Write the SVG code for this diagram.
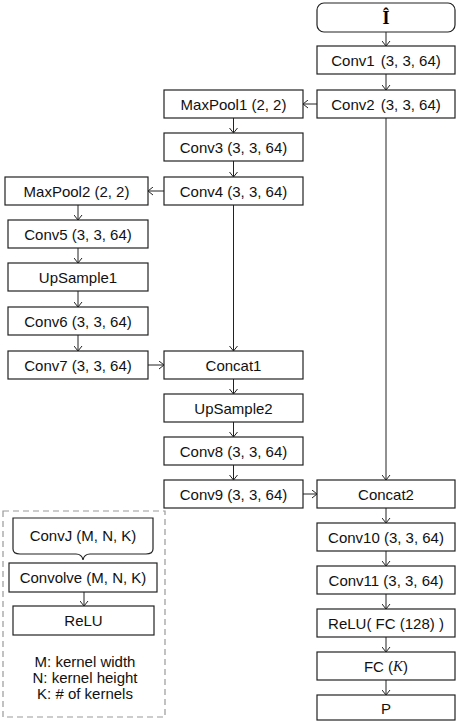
<svg xmlns="http://www.w3.org/2000/svg" width="458" height="722" viewBox="0 0 458 722">
<defs>
<style>
.b{fill:#fff;stroke:#222;stroke-width:1.2}
.t{font-family:"Liberation Sans",Arial,sans-serif;font-size:15px;fill:#111;text-anchor:middle;dominant-baseline:central}
.c{fill:none;stroke:#222;stroke-width:1}
.lg{fill:none;stroke:#999;stroke-width:1.2;stroke-dasharray:6,4}
</style>
<marker id="a" markerWidth="9" markerHeight="9" refX="6" refY="4.5" orient="auto" markerUnits="userSpaceOnUse">
<path d="M1,0.5 L6,4.5 L1,8.5" fill="none" stroke="#222" stroke-width="1"/>
</marker>
</defs>
<g id="connectors" class="c" marker-end="url(#a)">
<line x1="386" y1="32" x2="386" y2="46"/>
<line x1="386" y1="74" x2="386" y2="90"/>
<line x1="317" y1="104" x2="303" y2="104"/>
<line x1="386" y1="118" x2="386" y2="480"/>
<line x1="233.5" y1="118" x2="233.5" y2="133"/>
<line x1="233.5" y1="161" x2="233.5" y2="177"/>
<line x1="164" y1="191" x2="148" y2="191"/>
<line x1="233.5" y1="205" x2="233.5" y2="351"/>
<line x1="78" y1="205" x2="78" y2="220"/>
<line x1="78" y1="248" x2="78" y2="263"/>
<line x1="78" y1="291" x2="78" y2="307"/>
<line x1="78" y1="335" x2="78" y2="351"/>
<line x1="148" y1="365" x2="164" y2="365"/>
<line x1="233.5" y1="379" x2="233.5" y2="394"/>
<line x1="233.5" y1="422" x2="233.5" y2="437"/>
<line x1="233.5" y1="465" x2="233.5" y2="480"/>
<line x1="303" y1="494" x2="317" y2="494"/>
<line x1="386" y1="508" x2="386" y2="523"/>
<line x1="386" y1="551" x2="386" y2="566"/>
<line x1="386" y1="594" x2="386" y2="609"/>
<line x1="386" y1="637" x2="386" y2="652"/>
<line x1="386" y1="680" x2="386" y2="695"/>
<line x1="84" y1="592" x2="84" y2="606"/>
</g>
<g id="n_input"><rect class="b" x="317" y="3" width="138" height="29" rx="7"/><text x="386" y="18" font-family="'Liberation Serif',serif" font-weight="bold" font-size="18" text-anchor="middle" dominant-baseline="central">Î</text></g>
<g id="n_conv1"><rect class="b" x="317" y="46" width="138" height="28"/><text class="t" x="386" y="60">Conv1 <tspan dx="2">(3, 3, 64)</tspan></text></g>
<g id="n_conv2"><rect class="b" x="317" y="90" width="138" height="28"/><text class="t" x="386" y="104">Conv2 <tspan dx="2">(3, 3, 64)</tspan></text></g>
<g id="n_maxpool1"><rect class="b" x="164" y="90" width="139" height="28"/><text class="t" x="233.5" y="104">MaxPool1 (2, 2)</text></g>
<g id="n_conv3"><rect class="b" x="164" y="133" width="139" height="28"/><text class="t" x="233.5" y="147">Conv3 (3, 3, 64)</text></g>
<g id="n_conv4"><rect class="b" x="164" y="177" width="139" height="28"/><text class="t" x="233.5" y="191">Conv4 (3, 3, 64)</text></g>
<g id="n_maxpool2"><rect class="b" x="5" y="177" width="143" height="28"/><text class="t" x="76.5" y="191">MaxPool2 (2, 2)</text></g>
<g id="n_conv5"><rect class="b" x="8" y="220" width="140" height="28"/><text class="t" x="78" y="234">Conv5 (3, 3, 64)</text></g>
<g id="n_upsample1"><rect class="b" x="8" y="263" width="140" height="28"/><text class="t" x="78" y="277">UpSample1</text></g>
<g id="n_conv6"><rect class="b" x="8" y="307" width="140" height="28"/><text class="t" x="78" y="321">Conv6 (3, 3, 64)</text></g>
<g id="n_conv7"><rect class="b" x="8" y="351" width="140" height="28"/><text class="t" x="78" y="365">Conv7 (3, 3, 64)</text></g>
<g id="n_concat1"><rect class="b" x="164" y="351" width="139" height="28"/><text class="t" x="233.5" y="365">Concat1</text></g>
<g id="n_upsample2"><rect class="b" x="164" y="394" width="139" height="28"/><text class="t" x="233.5" y="408">UpSample2</text></g>
<g id="n_conv8"><rect class="b" x="164" y="437" width="139" height="28"/><text class="t" x="233.5" y="451">Conv8 (3, 3, 64)</text></g>
<g id="n_conv9"><rect class="b" x="164" y="480" width="139" height="28"/><text class="t" x="233.5" y="494">Conv9 (3, 3, 64)</text></g>
<g id="n_concat2"><rect class="b" x="317" y="480" width="138" height="28"/><text class="t" x="386" y="494">Concat2</text></g>
<g id="n_conv10"><rect class="b" x="317" y="523" width="138" height="28"/><text class="t" x="386" y="537">Conv10 (3, 3, 64)</text></g>
<g id="n_conv11"><rect class="b" x="317" y="566" width="138" height="28"/><text class="t" x="386" y="580">Conv11 (3, 3, 64)</text></g>
<g id="n_relufc"><rect class="b" x="317" y="609" width="138" height="28"/><text class="t" x="386" y="623">ReLU( FC (128) )</text></g>
<g id="n_fck"><rect class="b" x="317" y="652" width="138" height="28"/><text class="t" x="386" y="666">FC (<tspan font-family="'Liberation Serif',serif" font-style="italic">K</tspan>)</text></g>
<g id="n_p"><rect class="b" x="317" y="695" width="138" height="25"/><text class="t" x="386" y="708">P</text></g>
<g id="legend">
<rect class="lg" x="3" y="511" width="162" height="206"/>
<g id="n_convj"><path class="b" d="M13,549 L13,518 L153,518 L153,549 Q153,554 146,554 L90,554 Q84,554 83,560 Q82,554 76,554 L20,554 Q13,554 13,549 Z"/><text class="t" x="83" y="535">ConvJ (M, N, K)</text></g>
<g id="n_convolve"><rect class="b" x="9" y="563" width="148" height="29"/><text class="t" x="83" y="577.5">Convolve (M, N, K)</text></g>
<g id="n_relu"><rect class="b" x="13" y="606" width="141" height="29"/><text class="t" x="83.5" y="620.5">ReLU</text></g>
<text class="t" x="85" y="661">M: kernel width</text>
<text class="t" x="85" y="677">N: kernel height</text>
<text class="t" x="85" y="693">K: # of kernels</text>
</g>
</svg>
